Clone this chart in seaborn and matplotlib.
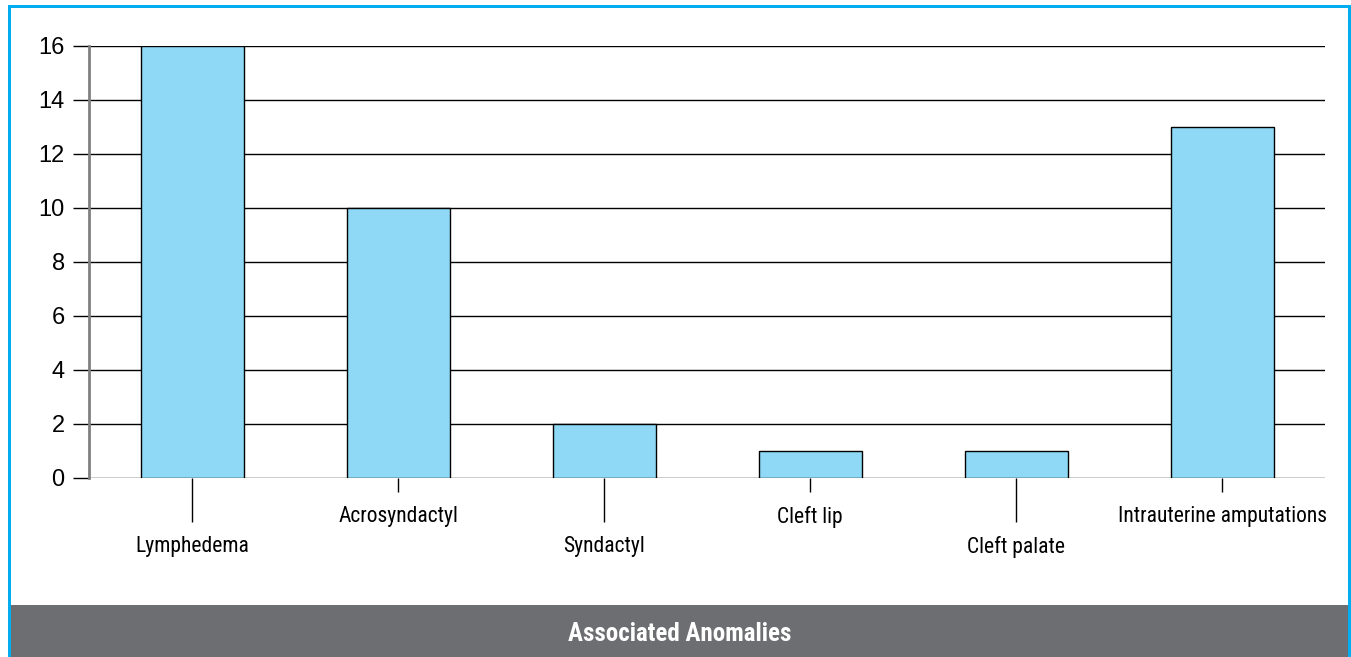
import matplotlib
matplotlib.use("Agg")
import matplotlib.pyplot as plt
from matplotlib.patches import Rectangle
from matplotlib import font_manager
import seaborn as sns
import pandas as pd

# Data
categories = ["Lymphedema", "Acrosyndactyl", "Syndactyl", "Cleft lip",
              "Cleft palate", "Intrauterine amputations"]
counts = [16, 10, 2, 1, 1, 13]
y_ticks = [0, 2, 4, 6, 8, 10, 12, 14, 16]
title = "Associated Anomalies"

sns.set_theme(style="white")
installed = {f.name for f in font_manager.fontManager.ttflist}
narrow = next((n for n in ["Roboto Condensed", "Archivo Narrow", "IBM Plex Sans Condensed",
                           "Liberation Sans Narrow", "Open Sans Condensed"]
               if n in installed), "Liberation Sans")
plt.rcParams["font.family"] = ["Liberation Sans", "DejaVu Sans"]

W, H = 1351, 657
fig = plt.figure(figsize=(W / 100, H / 100), dpi=100)
fig.patch.set_facecolor("white")

def fx(px):
    return px / W

def fy(py):
    return 1 - py / H

ax = fig.add_axes([fx(89), fy(478), fx(1325) - fx(89), fy(46) - fy(478)])

df = pd.DataFrame({"category": categories, "count": counts})
sns.barplot(data=df, x="category", y="count", color="#8FD9F7", saturation=1,
            edgecolor="black", linewidth=1.0, width=0.5, ax=ax, zorder=3)

ax.set_xlim(-0.5, 5.5)
ax.set_ylim(0, 16)
ax.set_xlabel("")
ax.set_ylabel("")

# horizontal rules
ax.set_yticks(y_ticks)
ax.yaxis.grid(True, color="black", linewidth=1.0)
ax.xaxis.grid(False)
ax.set_axisbelow(True)
ax.tick_params(axis="y", length=11.5, width=1.0, color="black", pad=6,
               labelsize=17, labelcolor="black", left=True)

for s in ["top", "right", "bottom"]:
    ax.spines[s].set_visible(False)
ax.spines["left"].set_color("#808080")
ax.spines["left"].set_linewidth(2.0)

# staggered category labels
pos = list(range(len(categories)))
ax.set_xticks(pos[0::2], labels=categories[0::2])
ax.set_xticks(pos[1::2], labels=categories[1::2], minor=True)
ax.tick_params(axis="x", which="major", length=31.5, width=1.0, color="black",
               pad=10, bottom=True, labelsize=15.5)
ax.tick_params(axis="x", which="minor", length=10, width=1.0, color="black",
               pad=10.5, bottom=True, labelsize=15.5)
for lab in ax.get_xticklabels(minor=False) + ax.get_xticklabels(minor=True):
    lab.set_family([narrow, "DejaVu Sans"])
    lab.set_color("black")

# frame and caption band
fig.patches.append(Rectangle((fx(11), fy(657)), fx(1348) - fx(11), fy(605) - fy(657),
                             transform=fig.transFigure, facecolor="#6D6E71",
                             edgecolor="none", zorder=1))
cyan = "#00AEEF"
for x0, y0, x1, y1 in [(8, 5, 11, 657), (8, 5, 1351, 8), (1348, 5, 1351, 657)]:
    fig.patches.append(Rectangle((fx(x0), fy(y1)), fx(x1) - fx(x0), fy(y0) - fy(y1),
                                 transform=fig.transFigure, facecolor=cyan,
                                 edgecolor="none", zorder=2))

fig.text(fx(680), fy(634), title, color="white", fontsize=18, fontweight="bold",
         family=[narrow, "DejaVu Sans"], ha="center", va="center")

fig.savefig("out.png", dpi=100)
